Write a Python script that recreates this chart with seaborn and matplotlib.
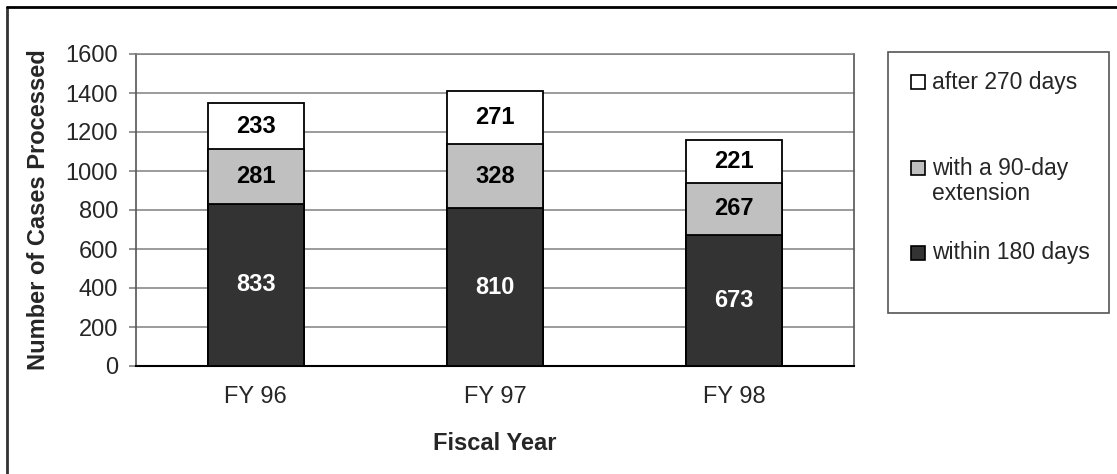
import matplotlib
matplotlib.use("Agg")
import matplotlib.pyplot as plt
import seaborn as sns
from matplotlib.patches import Rectangle
from matplotlib.lines import Line2D

# ---- data ----
years = ["FY 96", "FY 97", "FY 98"]
within_180 = [833, 810, 673]
with_ext = [281, 328, 267]
after_270 = [233, 271, 221]

legend_labels = ["after 270 days", "with a 90-day\nextension", "within 180 days"]
colors = ["#ffffff", "#c0c0c0", "#333333"]

# cumulative heights for the overlapping-bar stack
mid_top = [a + b for a, b in zip(within_180, with_ext)]
total = [a + b for a, b in zip(mid_top, after_270)]

sns.set_style("white")
plt.rcParams["font.family"] = ["Liberation Sans", "DejaVu Sans"]
FS = 17

W, H = 1117, 474
fig = plt.figure(figsize=(W / 100, H / 100), dpi=100)
ax = fig.add_axes([136 / W, 1 - 366 / H, (854 - 136) / W, 312 / H])

# draw tallest first so the lower segments sit on top
for vals, col in zip([total, mid_top, within_180], colors):
    sns.barplot(x=years, y=vals, color=col, edgecolor="black", linewidth=1.3,
                width=0.4, saturation=1, ax=ax, zorder=3)

# segment labels
for i in range(len(years)):
    ax.text(i, within_180[i] / 2, str(within_180[i]), ha="center", va="center",
            color="white", fontsize=FS, fontweight="bold", zorder=5)
    ax.text(i, within_180[i] + with_ext[i] / 2, str(with_ext[i]), ha="center",
            va="center", color="black", fontsize=FS, fontweight="bold", zorder=5)
    ax.text(i, mid_top[i] + after_270[i] / 2, str(after_270[i]), ha="center",
            va="center", color="black", fontsize=FS, fontweight="bold", zorder=5)

ax.set_xlim(-0.5, 2.5)
ax.set_ylim(0, 1600)
ax.set_yticks(range(0, 1601, 200))
ax.yaxis.grid(True, color="#808080", linewidth=1.1, zorder=0)
ax.set_axisbelow(True)

ax.set_xticks([-0.5, 0.5, 1.5, 2.5], minor=True)
ax.tick_params(axis="x", which="major", length=0, pad=14.5, labelsize=FS)
ax.tick_params(axis="x", which="minor", length=5, width=1.2, color="#808080", direction="out")
ax.tick_params(axis="y", length=5, width=1.2, color="#808080", direction="out",
               pad=8, labelsize=FS)
ax.tick_params(left=True, bottom=True)

for side in ["left", "right"]:
    ax.spines[side].set_color("#555555")
    ax.spines[side].set_linewidth(1.2)
ax.spines["bottom"].set_color("black")
ax.spines["bottom"].set_linewidth(1.5)
ax.spines["top"].set_color("#808080")
ax.spines["top"].set_linewidth(1.1)

ax.set_xlabel("Fiscal Year", fontsize=FS, fontweight="bold", va="top")
ax.xaxis.set_label_coords(0.5, (366 - 432) / 312)
ax.set_ylabel("Number of Cases Processed", fontsize=FS, fontweight="bold")
ax.yaxis.set_label_coords((50 - 136) / 718, 0.5)

# ---- legend box drawn by hand ----
fig.patches.append(Rectangle((888 / W, 1 - 313 / H), (1109 - 888) / W, (313 - 52) / H,
                             transform=fig.transFigure, facecolor="white",
                             edgecolor="#555555", linewidth=1.2))
row_y = [82, 168, 253]
text_y = [82, 181, 253]
for lab, col, ry, ty in zip(legend_labels, colors, row_y, text_y):
    fig.patches.append(Rectangle((911 / W, 1 - (ry + 7) / H), 14 / W, 14 / H,
                                 transform=fig.transFigure, facecolor=col,
                                 edgecolor="black", linewidth=1.2))
    fig.text(932 / W, 1 - ty / H, lab, ha="left", va="center", fontsize=16.5,
             linespacing=1.12)

# outer chart frame (top and left edges visible)
fig.add_artist(Line2D([7 / W, 7 / W], [0, 1 - 7 / H], transform=fig.transFigure,
                      color="#333333", linewidth=2))
fig.add_artist(Line2D([7 / W, 1], [1 - 7 / H, 1 - 7 / H], transform=fig.transFigure,
                      color="black", linewidth=2))

fig.savefig("out.png", dpi=100)
